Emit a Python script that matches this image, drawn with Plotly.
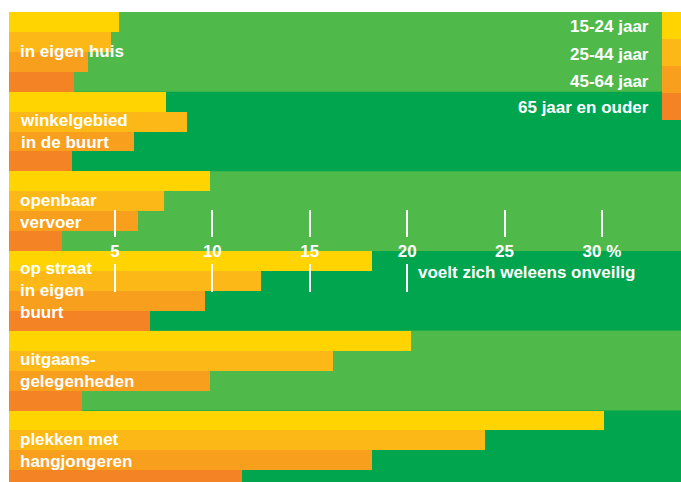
import plotly.graph_objects as go

# ---- data ----
categories = [
    "in eigen huis",
    "winkelgebied<br>in de buurt",
    "openbaar<br>vervoer",
    "op straat<br>in eigen<br>buurt",
    "uitgaans-<br>gelegenheden",
    "plekken met<br>hangjongeren",
]
series_names = ["15-24 jaar", "25-44 jaar", "45-64 jaar", "65 jaar en ouder"]
v_15_24 = [5.2, 7.6, 9.9, 18.2, 20.2, 30.1]
v_25_44 = [4.8, 8.7, 7.5, 12.5, 16.2, 24.0]
v_45_64 = [3.6, 6.0, 6.2, 9.6, 9.9, 18.2]
v_65_plus = [2.9, 2.8, 2.3, 6.8, 3.3, 11.5]
series_values = [v_15_24, v_25_44, v_45_64, v_65_plus]
tick_vals = [5, 10, 15, 20, 25, 30]
tick_text = ["5", "10", "15", "20", "25", "30 %"]
lower_tick_vals = [5, 10, 15, 20]
axis_note = "voelt zich weleens onveilig"

# ---- style ----
colors = ["#FFD400", "#FCB817", "#F8A01E", "#F48326"]
band_light = "#4FB94A"
band_dark = "#00A54E"
FONT = "Liberation Sans"
FS = 17
X_MIN, X_MAX = -0.44, 34.06
BASE = X_MIN

fig = go.Figure()
for name, vals, col in zip(series_names, series_values, colors):
    fig.add_trace(go.Bar(
        y=categories, x=[v - BASE for v in vals], base=BASE, name=name,
        orientation="h", marker=dict(color=col, line=dict(width=0)),
        showlegend=False, customdata=vals,
        hovertemplate="%{customdata}%<extra>" + name + "</extra>",
    ))

# dummy traces so the tick axes are drawn
fig.add_trace(go.Scatter(x=[None], y=[None], xaxis="x2", yaxis="y", showlegend=False, hoverinfo="skip"))
fig.add_trace(go.Scatter(x=[None], y=[None], xaxis="x3", yaxis="y", showlegend=False, hoverinfo="skip"))

# alternating background bands
for i in range(len(categories)):
    fig.add_shape(type="rect", xref="paper", yref="y", x0=0, x1=1,
                  y0=i - 0.5, y1=i + 0.5, layer="below", line=dict(width=0),
                  fillcolor=band_light if i % 2 == 0 else band_dark)

# plot area spans screen x 9..681, y 12..482 (body margin removed below)
W, H = 681, 482
PL, PT, PR, PB = 9, 12, 681, 482

def px_x(p):
    return (p - PL) / (PR - PL)

def px_y(p):
    return (PB - p) / (PB - PT)

txt_font = dict(family=FONT, size=FS, color="white", weight="bold")

# category labels
for cat in categories:
    fig.add_annotation(text=cat, xref="paper", yref="y", x=px_x(18), y=cat,
                       xanchor="left", yanchor="middle", align="left",
                       showarrow=False, font=txt_font)

# legend (top right)
leg_tops = [12, 39, 66, 93, 120]
for k, (name, col) in enumerate(zip(series_names, colors)):
    fig.add_shape(type="rect", xref="paper", yref="paper",
                  x0=px_x(662), x1=1.0, y0=px_y(leg_tops[k + 1]), y1=px_y(leg_tops[k]),
                  fillcolor=col, line=dict(width=0), layer="above")
    fig.add_annotation(text=name, xref="paper", yref="paper", x=px_x(651),
                       y=px_y(27 + 27 * k), xanchor="right", yanchor="middle", showarrow=False,
                       font=txt_font)

fig.add_annotation(text=axis_note, xref="x", yref="paper", x=20.45, y=px_y(272),
                   xanchor="left", yanchor="middle", showarrow=False, font=txt_font)

n_rows = (PB - PT) / 79.7
fig.update_layout(
    width=W, height=H,
    margin=dict(l=PL, r=W - PR, t=PT, b=H - PB, pad=0),
    paper_bgcolor="white", plot_bgcolor=band_light,
    barmode="group", bargap=0, bargroupgap=0,
    xaxis=dict(range=[X_MIN, X_MAX], visible=False, fixedrange=True),
    xaxis2=dict(range=[X_MIN, X_MAX], overlaying="x", anchor="free", position=px_y(209),
                side="bottom", tickmode="array", tickvals=tick_vals, ticktext=tick_text,
                ticks="outside", ticklen=27, tickwidth=2, tickcolor="white",
                showline=False, showgrid=False, zeroline=False,
                tickfont=txt_font),
    xaxis3=dict(range=[X_MIN, X_MAX], overlaying="x", anchor="free", position=px_y(263),
                side="bottom", tickmode="array", tickvals=lower_tick_vals,
                ticks="outside", ticklen=28, tickwidth=2, tickcolor="white",
                showticklabels=False, showline=False, showgrid=False, zeroline=False),
    yaxis=dict(range=[-0.5 + n_rows, -0.5], type="category", ticks="",
               showticklabels=False, showgrid=False, zeroline=False, showline=False),
    font=dict(family=FONT),
)

fig.write_html(
    "out.html",
    config={"displayModeBar": False},
    post_script="document.body.style.margin='0';document.body.style.overflow='hidden';",
)
